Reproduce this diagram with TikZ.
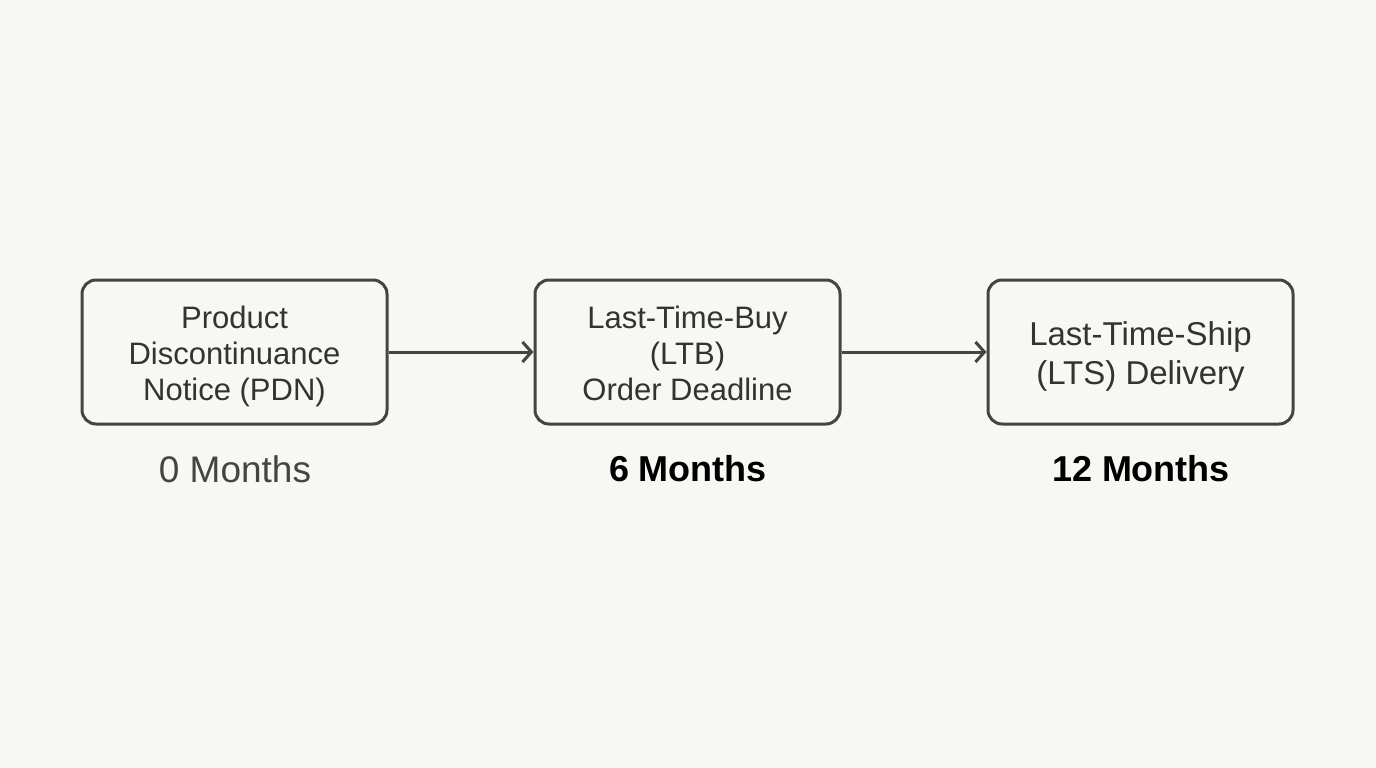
\documentclass[tikz,border=0pt]{standalone}
\usepackage{fontspec}
\setmainfont{Liberation Sans}
\usetikzlibrary{arrows.meta}
\definecolor{bg}{HTML}{F7F7F4}
\definecolor{edge}{HTML}{444444}
\definecolor{txt}{HTML}{333333}
\newcommand{\tstrut}[1]{\rule{0pt}{#1}}
\tikzset{
  stage/.style={draw=edge, line width=3pt, rounded corners=14pt, minimum width=305pt, minimum height=144pt, align=center, text=txt, font=\fontsize{31}{36}\selectfont, inner sep=0pt},
  conn/.style={draw=edge, line width=3pt, -{Straight Barb[length=9pt,width=20pt,line width=3pt]}},
  timelbl/.style={anchor=center},
  plainlbl/.style={timelbl, text=edge, font=\fontsize{37}{40}\selectfont},
  boldlbl/.style={timelbl, text=black, font=\fontsize{36}{40}\selectfont\bfseries}
}
\begin{document}
\begin{tikzpicture}[x=1pt,y=-1pt]
\fill[bg] (0,0) rectangle (1376,768);
\useasboundingbox (0,0) rectangle (1376,768);
\node[stage] (pdn) at (234.5,352) {\tstrut{31pt}Product\\Discontinuance\\Notice (PDN)};
\node[stage] (ltb) at (687.5,352) {\tstrut{25pt}Last-Time-Buy\\(LTB)\\Order Deadline};
\node[stage, font=\fontsize{33}{39}\selectfont] (lts) at (1140.5,352) {\tstrut{32pt}Last-Time-Ship\\(LTS) Delivery};
\draw[conn] (pdn.east) -- (ltb.west);
\draw[conn] (ltb.east) -- (lts.west);
\node[plainlbl] (t0) at (235,469) {0 Months};
\node[boldlbl] (t6) at (688,469) {6 Months};
\node[boldlbl] (t12) at (1141,469) {12 Months};
\end{tikzpicture}
\end{document}
